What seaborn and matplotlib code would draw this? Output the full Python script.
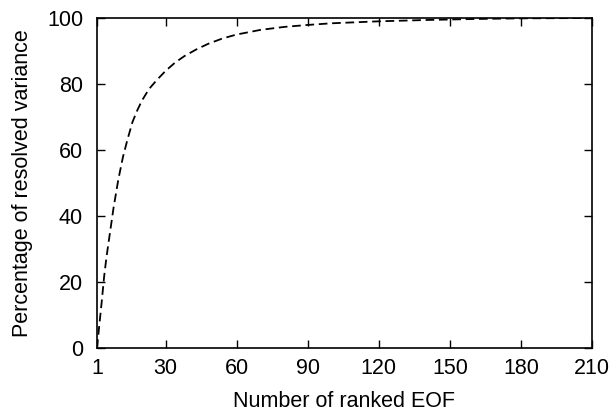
import matplotlib
matplotlib.use("Agg")
import matplotlib.pyplot as plt
import seaborn as sns
import pandas as pd

# Cumulative share of variance resolved by the leading EOFs
eof_rank = [1, 2, 3, 4, 5, 6, 8, 10, 12, 14, 16, 18, 20, 23, 26, 30, 34, 38,
            43, 48, 54, 60, 70, 80, 90, 100, 120, 140, 160, 180, 210]
resolved_pct = [0, 7, 14, 21.5, 27.5, 32.5, 42.5, 51, 58, 63.5, 68.5, 72, 75,
                78.5, 81, 84, 86.5, 88.5, 90.5, 92.2, 93.8, 95, 96.4, 97.3,
                97.9, 98.4, 99.0, 99.4, 99.7, 99.9, 100]
x_ticks = [1, 30, 60, 90, 120, 150, 180, 210]
y_ticks = [0, 20, 40, 60, 80, 100]

sns.set_theme(style="ticks", rc={"text.color": "black",
                                 "axes.labelcolor": "black",
                                 "xtick.color": "black",
                                 "ytick.color": "black",
                                 "axes.edgecolor": "black"})
plt.rcParams["font.family"] = ["Liberation Sans", "DejaVu Sans"]

df = pd.DataFrame({"rank": eof_rank, "pct": resolved_pct})

fig = plt.figure(figsize=(6.13, 4.18), dpi=100)
ax = fig.add_axes([0.1582, 0.1675, 0.8075, 0.7894])

sns.lineplot(data=df, x="rank", y="pct", ax=ax, color="black",
             linewidth=1.3, dashes=False)
ax.lines[0].set_dashes((4.8, 2.6))

ax.set_xlim(1, 210)
ax.set_ylim(0, 100)
ax.set_xticks(x_ticks)
ax.set_yticks(y_ticks)
ax.tick_params(direction="in", length=5.5, width=1, top=True, right=True,
               labelsize=15.5, colors="black")
ax.tick_params(axis="y", pad=10)
ax.tick_params(axis="x", pad=7)
for s in ax.spines.values():
    s.set_linewidth(1.2)
    s.set_color("black")

ax.set_xlabel("Number of ranked EOF", fontsize=15.5, labelpad=9,
              color="black")
ax.set_ylabel("Percentage of resolved variance", fontsize=15.5, labelpad=10,
              color="black")

fig.savefig("out.png", dpi=100)
